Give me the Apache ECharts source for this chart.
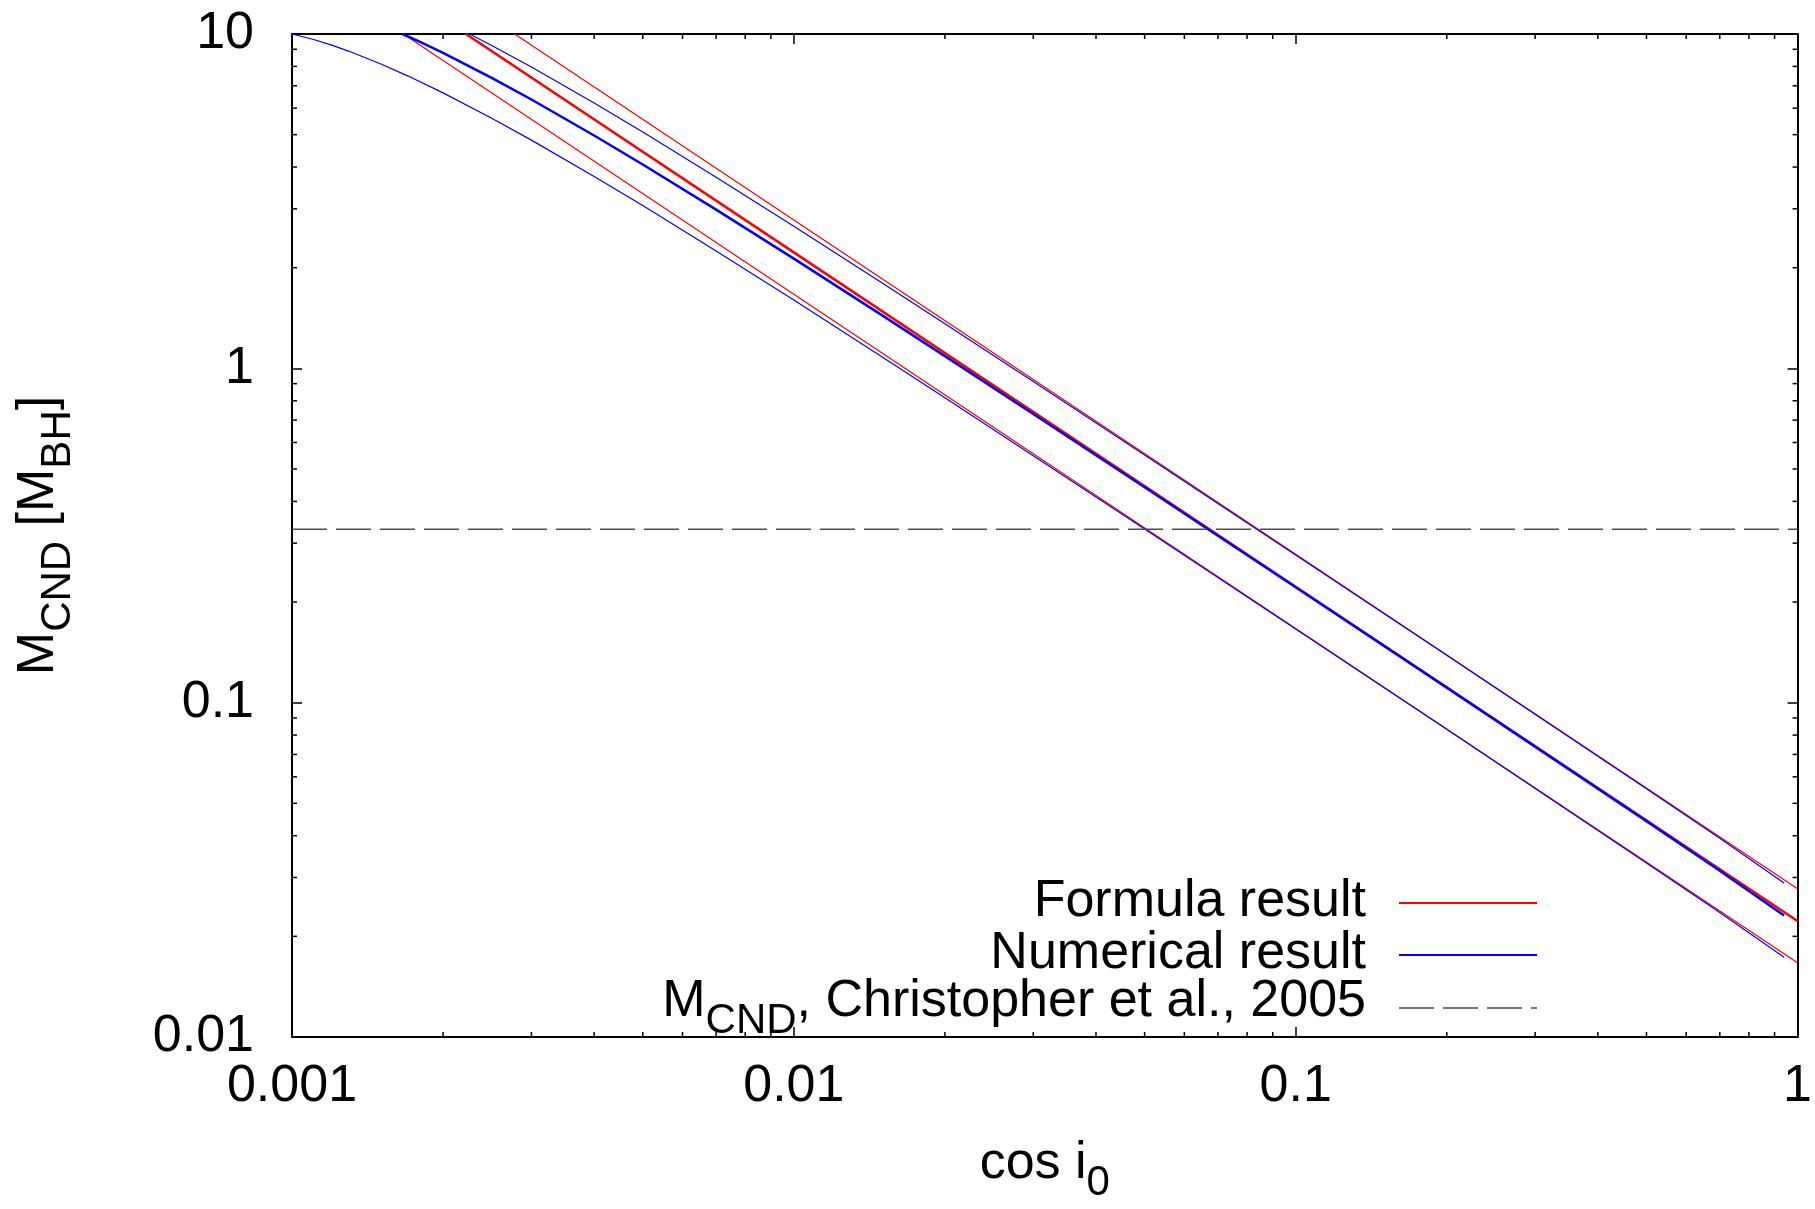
<!DOCTYPE html>
<html>
<head>
<meta charset="utf-8">
<title>M_CND vs cos i0</title>
<script src="https://cdn.jsdelivr.net/npm/echarts@6/dist/echarts.min.js"></script>
<style>
  html, body { margin: 0; padding: 0; background: #ffffff; }
  #chart { width: 1815px; height: 1209px; }
</style>
</head>
<body>
<div id="chart"></div>
<script>
// Axis ranges (log-log)
const X_MIN = 0.001, X_MAX = 1;
const Y_MIN = 0.01, Y_MAX = 10;

// Tick labels
const xTickLabels = ['0.001', '0.01', '0.1', '1'];
const yTickLabels = ['0.01', '0.1', '1', '10'];

// Minor tick positions (2..9 within each decade)
const xMinorTicks = [0.002, 0.003, 0.004, 0.005, 0.006, 0.007, 0.008, 0.009,
                     0.02, 0.03, 0.04, 0.05, 0.06, 0.07, 0.08, 0.09,
                     0.2, 0.3, 0.4, 0.5, 0.6, 0.7, 0.8, 0.9];
const yMinorTicks = [0.02, 0.03, 0.04, 0.05, 0.06, 0.07, 0.08, 0.09,
                     0.2, 0.3, 0.4, 0.5, 0.6, 0.7, 0.8, 0.9,
                     2, 3, 4, 5, 6, 7, 8, 9];

// Formula result (three disc models: high / middle / low)
const formulaHighX = [0.002778, 0.01, 0.1, 1];
const formulaHighY = [10, 2.778, 0.2778, 0.02778];
const formulaMidX  = [0.002222, 0.01, 0.1, 1];
const formulaMidY  = [10, 2.222, 0.2222, 0.02222];
const formulaLowX  = [0.001667, 0.01, 0.1, 1];
const formulaLowY  = [10, 1.667, 0.1667, 0.01667];

// Numerical result (same three models)
const numericHighX = [0.00226, 0.0025, 0.003, 0.004, 0.005, 0.007, 0.01, 0.015, 0.02, 0.03, 0.05, 0.1, 0.2, 0.5, 0.7, 0.94];
const numericHighY = [10, 9.244, 7.963, 6.215, 5.089, 3.73, 2.661, 1.8, 1.3597, 0.913, 0.5509, 0.2767, 0.1386, 0.05528, 0.0393, 0.0289];
const numericMidX  = [0.00166, 0.0018, 0.002, 0.0025, 0.003, 0.004, 0.005, 0.007, 0.01, 0.015, 0.02, 0.03, 0.05, 0.1, 0.2, 0.5, 0.7, 0.94];
const numericMidY  = [10, 9.465, 8.778, 7.396, 6.37, 4.972, 4.071, 2.984, 2.129, 1.44, 1.0878, 0.7303, 0.4407, 0.2213, 0.1109, 0.04422, 0.03143, 0.0231];
const numericLowX  = [0.001, 0.0011, 0.0012, 0.0013, 0.0015, 0.0017, 0.002, 0.0025, 0.003, 0.004, 0.005, 0.007, 0.01, 0.015, 0.02, 0.03, 0.05, 0.1, 0.2, 0.5, 0.7, 0.94];
const numericLowY  = [10, 9.642, 9.259, 8.876, 8.148, 7.497, 6.667, 5.6, 4.815, 3.75, 3.067, 2.245, 1.6, 1.0815, 0.8167, 0.5481, 0.3307, 0.166, 0.0832, 0.03317, 0.02357, 0.01733];

// Reference CND mass (Christopher et al., 2005)
const cndRefX = [0.001, 1];
const cndRefY = [0.33, 0.33];

const FONT = '"Liberation Sans", Arial, Helvetica, sans-serif';
const RED = '#ff0000', BLUE = '#0000ff', DASH = '#4d4d4d';

function pairs(xs, ys) { return xs.map((x, i) => [x, ys[i]]); }

function lineSeries(name, xs, ys, color, width) {
  return {
    name: name, type: 'line', data: pairs(xs, ys),
    showSymbol: false, symbol: 'none', smooth: false, clip: true,
    lineStyle: { color: color, width: width }, animation: false, silent: true
  };
}

function minorTickSeries(values, isX) {
  const len = 5;
  const style = { stroke: '#000', lineWidth: 1.5 };
  return {
    type: 'custom', silent: true, animation: false, z: 5,
    data: values.map(v => isX ? [v, 1] : [0.01, v]),
    renderItem: function (params, api) {
      if (isX) {
        const v = api.value(0);
        const b = api.coord([v, Y_MIN]);
        const t = api.coord([v, Y_MAX]);
        return { type: 'group', children: [
          { type: 'line', shape: { x1: b[0], y1: b[1], x2: b[0], y2: b[1] - len }, style: style },
          { type: 'line', shape: { x1: t[0], y1: t[1], x2: t[0], y2: t[1] + len }, style: style }
        ]};
      }
      const v = api.value(1);
      const l = api.coord([X_MIN, v]);
      const r = api.coord([X_MAX, v]);
      return { type: 'group', children: [
        { type: 'line', shape: { x1: l[0], y1: l[1], x2: l[0] + len, y2: l[1] }, style: style },
        { type: 'line', shape: { x1: r[0], y1: r[1], x2: r[0] - len, y2: r[1] }, style: style }
      ]};
    }
  };
}

const subRich = { sub: { fontSize: 42, fontFamily: FONT, color: '#000', padding: [38, 0, 0, 0] } };

function baseAxis(min, max, position, labels, showLabels) {
  return {
    type: 'log', logBase: 10, min: min, max: max, position: position,
    axisLine: { show: true, onZero: false, lineStyle: { color: '#000', width: 2 } },
    axisTick: { show: true, inside: true, length: 10, lineStyle: { color: '#000', width: 1.5 } },
    splitLine: { show: false },
    axisLabel: {
      show: showLabels, fontSize: 52, fontFamily: FONT, color: '#000',
      formatter: function (v) {
        const i = Math.round(Math.log10(v / min));
        return labels[i] !== undefined ? labels[i] : '';
      }
    }
  };
}

const xBottom = Object.assign(baseAxis(X_MIN, X_MAX, 'bottom', xTickLabels, true), {
  name: 'cos i{sub|0}', nameLocation: 'middle', nameGap: 87,
  nameTextStyle: { fontSize: 52, fontFamily: FONT, color: '#000', rich: subRich }
});
xBottom.axisLabel.margin = 24;
const xTop = baseAxis(X_MIN, X_MAX, 'top', xTickLabels, false);

const yLeft = Object.assign(baseAxis(Y_MIN, Y_MAX, 'left', yTickLabels, true), {
  name: 'M{sub|CND} [M{sub|BH}]', nameLocation: 'middle', nameGap: 213, nameRotate: 90,
  nameTextStyle: { fontSize: 52, fontFamily: FONT, color: '#000', rich: subRich }
});
yLeft.axisLabel.margin = 38;
const yRight = baseAxis(Y_MIN, Y_MAX, 'right', yTickLabels, false);

// Legend drawn as text + sample lines, text right-aligned left of the samples
const LEG_TEXT_X = 1366, LEG_X1 = 1399, LEG_X2 = 1537;
const legendRows = [
  { text: 'Formula result', y: 902, lineY: 903, color: RED, dash: null, width: 2 },
  { text: 'Numerical result', y: 954, lineY: 955, color: BLUE, dash: null, width: 2 },
  { text: 'M{sub|CND}, Christopher et al., 2005', y: 1002, lineY: 1008, color: DASH, dash: [35, 9], width: 1.5 }
];
const legendGraphics = [];
legendRows.forEach(r => {
  legendGraphics.push({
    type: 'text', x: LEG_TEXT_X, y: r.y, silent: true,
    style: { text: r.text, fontSize: 52, fontFamily: FONT, fill: '#000',
             align: 'right', verticalAlign: 'middle', rich: subRich }
  });
  legendGraphics.push({
    type: 'line', silent: true,
    shape: { x1: LEG_X1, y1: r.lineY, x2: LEG_X2, y2: r.lineY },
    style: { stroke: r.color, lineWidth: r.width, lineDash: r.dash || null }
  });
});

const chart = echarts.init(document.getElementById('chart'), null, { renderer: 'canvas' });
chart.setOption({
  animation: false,
  backgroundColor: '#ffffff',
  grid: { left: 292, right: 16, top: 34, bottom: 164, containLabel: false },
  xAxis: [xBottom, xTop],
  yAxis: [yLeft, yRight],
  series: [
    lineSeries('Formula result', formulaHighX, formulaHighY, RED, 1.2),
    lineSeries('Formula result', formulaMidX, formulaMidY, RED, 2.5),
    lineSeries('Formula result', formulaLowX, formulaLowY, RED, 1.2),
    lineSeries('Numerical result', numericHighX, numericHighY, BLUE, 1.2),
    lineSeries('Numerical result', numericMidX, numericMidY, BLUE, 2.5),
    lineSeries('Numerical result', numericLowX, numericLowY, BLUE, 1.2),
    Object.assign(lineSeries('M_CND, Christopher et al., 2005', cndRefX, cndRefY, DASH, 1.5),
      { lineStyle: { color: DASH, width: 1.5, type: [35, 9] } }),
    minorTickSeries(xMinorTicks, true),
    minorTickSeries(yMinorTicks, false)
  ],
  graphic: legendGraphics
});
</script>
</body>
</html>
